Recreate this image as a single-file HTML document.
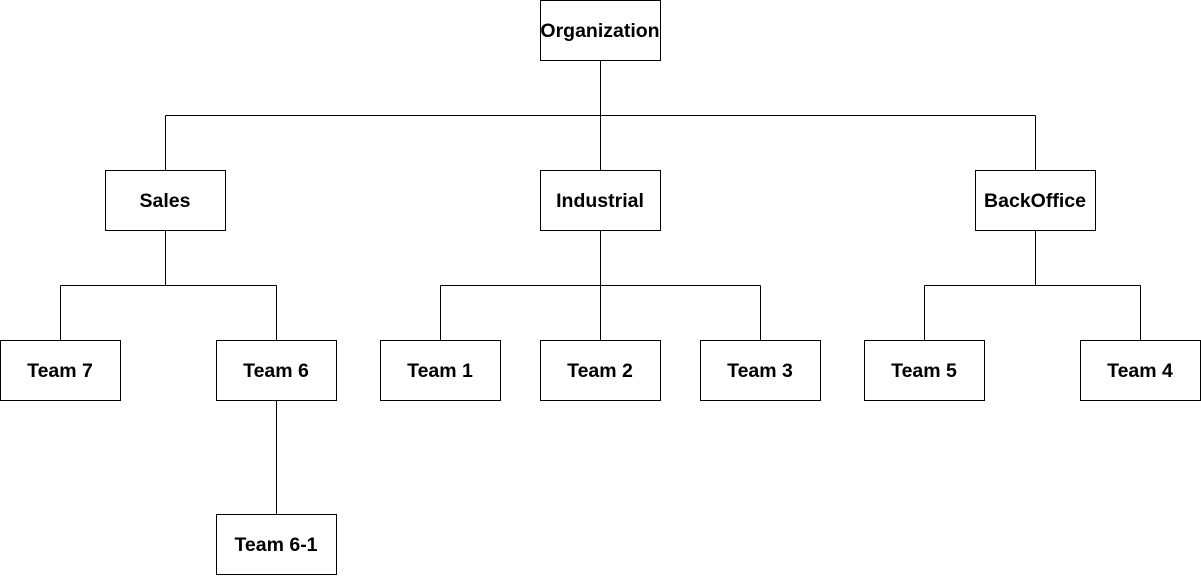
<!DOCTYPE html>
<html><head><meta charset="utf-8"><style>
html,body{margin:0;padding:0;background:#fff;}
svg{display:block;}
text{font-family:"Liberation Sans",Arial,sans-serif;font-weight:bold;font-size:19.5px;fill:#000;}
</style></head><body>
<svg width="1201" height="576" viewBox="0 0 1201 576" xmlns="http://www.w3.org/2000/svg">
<g stroke="#000" stroke-width="1" fill="none">
<path d="M600.5 60.5V115.5M165.5 115.5H1035.5M165.5 115.5V170.5M600.5 115.5V170.5M1035.5 115.5V170.5"/>
<path d="M165.5 230.5V285.5M60.5 285.5H276.5M60.5 285.5V340.5M276.5 285.5V340.5"/>
<path d="M600.5 230.5V340.5M440.5 285.5H760.5M440.5 285.5V340.5M760.5 285.5V340.5"/>
<path d="M1035.5 230.5V285.5M924.5 285.5H1140.5M924.5 285.5V340.5M1140.5 285.5V340.5"/>
<path d="M276.5 400.5V514.5"/>
</g>
<g stroke="#000" stroke-width="1" fill="#fff">
<rect x="540.5" y="0.5" width="120" height="60"/>
<rect x="105.5" y="170.5" width="120" height="60"/>
<rect x="540.5" y="170.5" width="120" height="60"/>
<rect x="975.5" y="170.5" width="120" height="60"/>
<rect x="0.5" y="340.5" width="120" height="60"/>
<rect x="216.5" y="340.5" width="120" height="60"/>
<rect x="380.5" y="340.5" width="120" height="60"/>
<rect x="540.5" y="340.5" width="120" height="60"/>
<rect x="700.5" y="340.5" width="120" height="60"/>
<rect x="864.5" y="340.5" width="120" height="60"/>
<rect x="1080.5" y="340.5" width="120" height="60"/>
<rect x="216.5" y="514.5" width="120" height="60"/>
</g>
<g text-anchor="middle">
<text x="600" y="37">Organization</text>
<text x="165" y="207">Sales</text>
<text x="600" y="207">Industrial</text>
<text x="1035" y="207">BackOffice</text>
<text x="60" y="377">Team 7</text>
<text x="276" y="377">Team 6</text>
<text x="440" y="377">Team 1</text>
<text x="600" y="377">Team 2</text>
<text x="760" y="377">Team 3</text>
<text x="924" y="377">Team 5</text>
<text x="1140" y="377">Team 4</text>
<text x="276" y="551">Team 6-1</text>
</g>
</svg>
</body></html>
